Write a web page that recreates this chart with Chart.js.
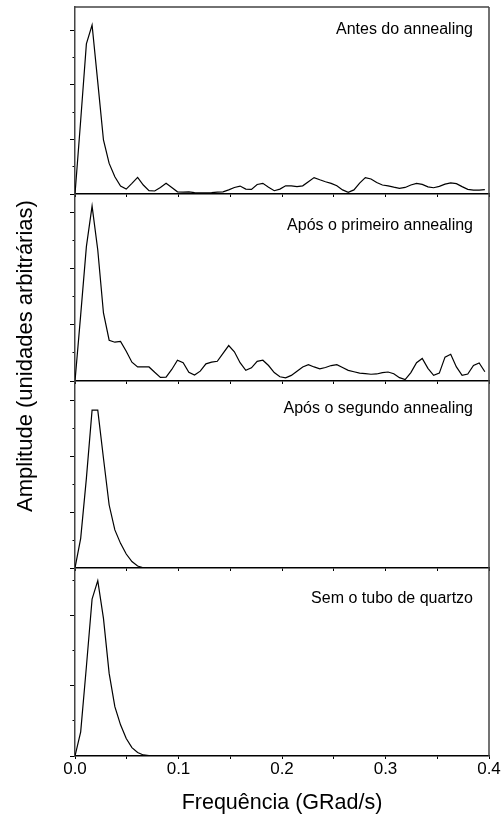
<!DOCTYPE html>
<html lang="pt-BR">
<head>
<meta charset="utf-8">
<title>Espectros de amplitude</title>
<script src="https://cdn.jsdelivr.net/npm/chart.js@4.4.1/dist/chart.umd.min.js"></script>
<style>
    html, body { margin: 0; padding: 0; background: #fff; }
    #figura { position: relative; width: 502px; height: 816px; font-family: "Liberation Sans", Arial, sans-serif; }
    #figura canvas { position: absolute; left: 0; }
    #titulo-y {
        position: absolute; left: -175px; top: 345px; width: 400px; height: 22px;
        line-height: 22px; font-size: 22px; text-align: center; color: #000;
        white-space: nowrap; transform: rotate(-90deg);
    }
</style>
</head>
<body>
<div id="figura">
    <canvas id="painel-1" width="502" height="197" style="top:0px"></canvas>
    <canvas id="painel-2" width="502" height="192" style="top:192px"></canvas>
    <canvas id="painel-3" width="502" height="192" style="top:379px"></canvas>
    <canvas id="painel-4" width="502" height="250" style="top:566px"></canvas>
    <div id="titulo-y">Amplitude (unidades arbitrárias)</div>
</div>

<script>
// Espaçamento entre os pontos do espectro (GRad/s)
const passo = 0.0055;

// Amplitudes (unidades arbitrárias), um valor por ponto de frequência
const antesAnnealing = [
    0, 2.7, 5.5, 6.19, 4.1, 1.98, 1.12, 0.63, 0.29, 0.18,
    0.39, 0.61, 0.33, 0.12, 0.11, 0.24, 0.39, 0.24, 0.08, 0.07,
    0.08, 0.05, 0.04, 0.04, 0.05, 0.07, 0.08, 0.15, 0.24, 0.29,
    0.18, 0.17, 0.35, 0.39, 0.25, 0.12, 0.18, 0.3, 0.3, 0.27,
    0.3, 0.45, 0.6, 0.52, 0.45, 0.39, 0.3, 0.15, 0.06, 0.15,
    0.4, 0.6, 0.55, 0.42, 0.33, 0.3, 0.25, 0.21, 0.24, 0.33,
    0.39, 0.35, 0.26, 0.23, 0.28, 0.36, 0.41, 0.38, 0.27, 0.17,
    0.14, 0.14, 0.16
];
const primeiroAnnealing = [
    0, 2.35, 4.78, 6.22, 4.66, 2.42, 1.45, 1.38, 1.41, 1.06,
    0.67, 0.5, 0.5, 0.5, 0.31, 0.13, 0.14, 0.41, 0.74, 0.65,
    0.31, 0.21, 0.35, 0.61, 0.67, 0.7, 0.98, 1.26, 1.04, 0.65,
    0.38, 0.47, 0.7, 0.74, 0.55, 0.3, 0.15, 0.11, 0.2, 0.35,
    0.5, 0.58, 0.5, 0.43, 0.48, 0.55, 0.58, 0.48, 0.38, 0.33,
    0.28, 0.26, 0.24, 0.25, 0.3, 0.32, 0.26, 0.12, 0.05, 0.3,
    0.65, 0.8, 0.45, 0.2, 0.28, 0.85, 0.95, 0.5, 0.2, 0.25,
    0.55, 0.64, 0.33
];
const segundoAnnealing = [
    0, 1.06, 3.2, 5.64, 5.64, 3.92, 2.25, 1.36, 0.88, 0.5,
    0.23, 0.07, 0.01, 0, 0, 0, 0, 0, 0, 0,
    0, 0, 0, 0, 0, 0, 0, 0, 0, 0,
    0, 0, 0, 0, 0, 0, 0, 0, 0, 0,
    0, 0, 0, 0, 0, 0, 0, 0, 0, 0,
    0, 0, 0, 0, 0, 0, 0, 0, 0, 0,
    0, 0, 0, 0, 0, 0, 0, 0, 0, 0,
    0, 0, 0
];
const semTubo = [
    0, 0.69, 2.55, 4.48, 5.01, 3.93, 2.36, 1.41, 0.89, 0.5,
    0.24, 0.1, 0.03, 0.01, 0, 0, 0, 0, 0, 0,
    0, 0, 0, 0, 0, 0, 0, 0, 0, 0,
    0, 0, 0, 0, 0, 0, 0, 0, 0, 0,
    0, 0, 0, 0, 0, 0, 0, 0, 0, 0,
    0, 0, 0, 0, 0, 0, 0, 0, 0, 0,
    0, 0, 0, 0, 0, 0, 0, 0, 0, 0,
    0, 0, 0
];

const rotulos = ['Antes do annealing', 'Após o primeiro annealing', 'Após o segundo annealing', 'Sem o tubo de quartzo'];
const frequencias = antesAnnealing.map((_, i) => +(i * passo).toFixed(4));

const FONTE = '"Liberation Sans", Arial, sans-serif';

// Moldura (topo/direita) e rótulo de cada painel
const moldura = {
    id: 'moldura',
    afterDraw(chart, args, opts) {
        const { ctx, chartArea: a } = chart;
        ctx.save();
        ctx.strokeStyle = '#444';
        ctx.lineWidth = 1.5;
        ctx.beginPath();
        if (opts.topo) {
            ctx.moveTo(a.left, a.top);
            ctx.lineTo(a.right, a.top);
        }
        ctx.moveTo(a.right, a.top);
        ctx.lineTo(a.right, a.bottom);
        ctx.stroke();

        ctx.fillStyle = '#000';
        ctx.font = '16px ' + FONTE;
        ctx.textAlign = 'right';
        ctx.textBaseline = 'alphabetic';
        ctx.fillText(opts.rotulo, a.right - 16, a.top + opts.base);
        ctx.restore();
    }
};

function criarPainel(id, valores, cfg) {
    const ultimo = cfg.ultimo === true;

    new Chart(document.getElementById(id), {
        type: 'line',
        data: {
            datasets: [{
                data: frequencias.map((f, i) => ({ x: f, y: valores[i] })),
                borderColor: '#000',
                borderWidth: 1.2,
                pointRadius: 0,
                tension: 0,
                fill: false
            }]
        },
        plugins: [moldura],
        options: {
            responsive: false,
            animation: false,
            devicePixelRatio: 1,
            layout: {
                padding: { left: 70, right: 13, top: cfg.topo, bottom: 0 }
            },
            plugins: {
                legend: { display: false },
                tooltip: { enabled: false },
                moldura: { topo: cfg.bordaTopo, rotulo: cfg.rotulo, base: cfg.base }
            },
            scales: {
                x: {
                    type: 'linear',
                    min: 0,
                    max: 0.4,
                    grid: { drawOnChartArea: false, tickLength: 3, color: '#000' },
                    border: { color: '#000', width: 1.5 },
                    ticks: {
                        display: ultimo,
                        stepSize: 0.05,
                        autoSkip: false,
                        maxRotation: 0,
                        padding: 0,
                        color: '#000',
                        font: { family: FONTE, size: 17 },
                        callback: (v) => Math.abs(v * 10 - Math.round(v * 10)) < 1e-6 ? v.toFixed(1) : ''
                    },
                    title: {
                        display: ultimo,
                        text: 'Frequência (GRad/s)',
                        color: '#000',
                        font: { family: FONTE, size: 21.5 },
                        padding: { top: 0, bottom: 0 }
                    },
                    afterFit: (s) => { s.height = ultimo ? 60 : 3; }
                },
                // ticks maiores (a cada 2 unidades)
                y: {
                    type: 'linear',
                    min: 0,
                    max: cfg.yMax,
                    weight: 1,
                    grid: { drawOnChartArea: false, tickLength: 5, color: '#000' },
                    border: { color: '#444', width: 1.5 },
                    ticks: { display: false, stepSize: 2, includeBounds: false },
                    afterFit: (s) => { s.width = 5; }
                },
                // ticks menores (a cada unidade)
                yMenor: {
                    type: 'linear',
                    position: 'left',
                    min: 0,
                    max: cfg.yMax,
                    weight: 0,
                    grid: { drawOnChartArea: false, tickLength: 2.5, color: '#000' },
                    border: { display: false },
                    ticks: { display: false, stepSize: 1, includeBounds: false },
                    afterFit: (s) => { s.width = 0; }
                }
            }
        }
    });
}

criarPainel('painel-1', antesAnnealing,    { topo: 7, yMax: 6.85, bordaTopo: true,  rotulo: rotulos[0], base: 26.5 });
criarPainel('painel-2', primeiroAnnealing, { topo: 2, yMax: 6.65, bordaTopo: false, rotulo: rotulos[1], base: 35.5 });
criarPainel('painel-3', segundoAnnealing,  { topo: 2, yMax: 6.68, bordaTopo: false, rotulo: rotulos[2], base: 32.2 });
criarPainel('painel-4', semTubo,           { topo: 2, yMax: 5.37, bordaTopo: false, rotulo: rotulos[3], base: 34.5, ultimo: true });
</script>
</body>
</html>
